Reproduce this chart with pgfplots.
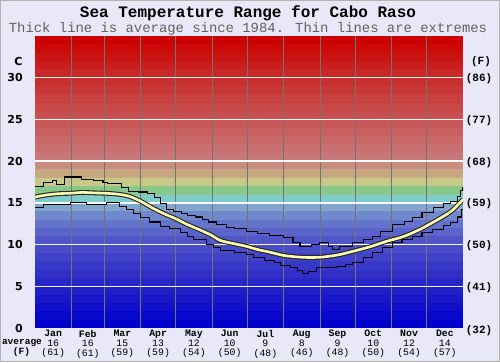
\documentclass[border=0pt]{standalone}
\usepackage{pgfplots}
\usepackage{pgfplotstable}
\pgfplotsset{compat=1.18}
\usepackage{fontspec}
\setmainfont{Liberation Mono}
\newfontfamily\dvs{DejaVu Sans}
\definecolor{bgc}{RGB}{232,232,248}
\definecolor{avgc}{RGB}{255,255,176}
\definecolor{b0}{RGB}{0,0,204}
\definecolor{b1}{RGB}{8,8,204}
\definecolor{b2}{RGB}{16,16,202}
\definecolor{b3}{RGB}{24,24,200}
\definecolor{b4}{RGB}{32,32,200}
\definecolor{b5}{RGB}{40,40,200}
\definecolor{b6}{RGB}{48,48,200}
\definecolor{b7}{RGB}{56,56,200}
\definecolor{b8}{RGB}{64,66,200}
\definecolor{b9}{RGB}{72,76,200}
\definecolor{b10}{RGB}{80,86,200}
\definecolor{b11}{RGB}{90,100,202}
\definecolor{b12}{RGB}{100,116,204}
\definecolor{b13}{RGB}{112,136,204}
\definecolor{b14}{RGB}{128,164,204}
\definecolor{b15}{RGB}{128,204,204}
\definecolor{b16}{RGB}{136,200,136}
\definecolor{b17}{RGB}{200,200,136}
\definecolor{b18}{RGB}{200,168,128}
\definecolor{b19}{RGB}{200,140,128}
\definecolor{b20}{RGB}{200,120,120}
\definecolor{b21}{RGB}{200,112,112}
\definecolor{b22}{RGB}{200,104,104}
\definecolor{b23}{RGB}{200,96,96}
\definecolor{b24}{RGB}{200,88,88}
\definecolor{b25}{RGB}{200,80,80}
\definecolor{b26}{RGB}{200,72,72}
\definecolor{b27}{RGB}{200,64,64}
\definecolor{b28}{RGB}{200,56,56}
\definecolor{b29}{RGB}{200,48,48}
\definecolor{b30}{RGB}{200,40,40}
\definecolor{b31}{RGB}{202,30,30}
\definecolor{b32}{RGB}{202,20,20}
\definecolor{b33}{RGB}{204,10,10}
\definecolor{b34}{RGB}{204,0,0}

\pgfplotstableread{
day temp
0 15.7
10 15.95
20 16.1
30 16.15
40 16.25
50 16.2
60 16.15
70 16.05
80 15.8
90 15.2
100 14.4
110 13.7
120 13.1
130 12.4
140 11.8
150 11.15
158 10.5
170 10.1
180 9.8
190 9.4
200 9.1
212 8.7
225 8.5
235 8.45
245 8.5
258 8.75
270 9.15
286 9.75
300 10.4
314 10.95
328 11.8
343 12.95
355 14.0
365 15.4
}\avgdata

\pgfplotstableread{
day temp
0 17.0
7 17.4
15 17.7
18 17.2
25 18.1
40 17.85
50 17.7
58 17.45
62 17.35
74 16.8
80 16.4
88 16.3
96 16.15
102 15.6
107 14.9
112 14.2
118 13.95
125 13.7
130 13.5
137 13.3
143 13.0
148 12.7
155 12.4
163 12.1
170 11.9
180 11.6
190 11.3
200 11.1
212 10.8
220 10.3
226 9.8
236 10.0
243 10.2
250 9.8
254 9.45
260 9.8
271 10.2
280 10.6
288 11.0
295 11.6
305 12.4
315 12.8
322 13.2
330 13.8
340 14.4
348 14.9
354 15.2
360 15.8
363 16.5
365 16.9
}\maxdata

\pgfplotstableread{
day temp
0 14.4
7 14.8
30 15.0
44 14.8
61 15.0
72 14.6
78 14.2
84 13.7
90 13.2
98 12.7
107 12.2
115 11.9
124 11.5
130 11.0
135 10.6
146 10.0
152 9.7
158 9.3
170 9.0
180 8.8
186 8.4
196 8.1
204 7.8
209 7.5
218 7.2
224 6.9
228 6.55
233 6.8
240 7.2
257 7.4
265 7.6
271 7.8
280 8.4
288 9.0
296 9.6
305 10.2
313 10.6
322 11.0
330 11.4
339 11.8
348 12.3
354 12.6
360 13.3
364 14.2
365 14.2
}\mindata

\pgfplotsset{commonax/.style={
  at={(35pt,34pt)}, anchor=south west, scale only axis,
  width=428pt, height=292pt,
  xmin=0, xmax=365, ymin=0, ymax=35,
  axis line style={draw=none},
  tick style={draw=none},
}}

\begin{document}
\begin{tikzpicture}
\fill[bgc] (0,0) rectangle (500pt,362pt);
\useasboundingbox (0,0) rectangle (500pt,362pt);
\draw[gray!60, line width=0.6pt] (0.3pt,0.3pt) rectangle (499.7pt,361.7pt);
\node[font=\fontsize{16}{18}\selectfont\bfseries] at (248pt,348.5pt) {Sea Temperature Range for Cabo Raso};
\node[font=\fontsize{13.9}{16}\selectfont, text=black!62] at (248pt,333.5pt) {Thick line is average since 1984. Thin lines are extremes};
\begin{axis}[commonax, xtick=\empty, ytick=\empty]
\pgfplotsinvokeforeach{0,...,34}{
  \fill[b#1] (axis cs:0,#1) rectangle (axis cs:365,35);
}
\end{axis}
\begin{axis}[
  commonax,
  xtick={15.5,45,74.5,105,135.5,166,196.5,227.5,258,288.5,319,349.5},
  xticklabels={{\textbf{Jan}\\16\\(61)},{\textbf{Feb}\\16\\(61)},{\textbf{Mar}\\15\\(59)},{\textbf{Apr}\\13\\(59)},{\textbf{May}\\12\\(54)},{\textbf{Jun}\\10\\(50)},{\textbf{Jul}\\9\\(48)},{\textbf{Aug}\\8\\(46)},{\textbf{Sep}\\9\\(48)},{\textbf{Oct}\\10\\(50)},{\textbf{Nov}\\12\\(54)},{\textbf{Dec}\\14\\(57)}},
  xticklabel style={font=\fontsize{9.8}{9.6}\selectfont, align=center, anchor=north, inner sep=0pt, yshift=-2pt},
  minor xtick={31,59,90,120,151,181,212,243,273,304,334},
  xminorgrids,
  minor grid style={color=black!55, line width=0.8pt},
  ytick={5,10,15,20,25,30},
  ymajorgrids,
  major grid style={white, line width=1.3pt},
  extra y ticks={0},
  extra y tick style={grid=none},
  /pgf/number format/assume math mode=true,
  yticklabel style={font=\dvs\bfseries\fontsize{11}{12}\selectfont, anchor=east, inner sep=0pt, xshift=-12pt},
]
\addplot[black, line width=1.1pt, const plot, mark=none] table[x=day,y=temp] {\maxdata};
\addplot[black, line width=1.1pt, const plot, mark=none] table[x=day,y=temp] {\mindata};
\addplot[black!85, line width=4.8pt, smooth, tension=0.5, mark=none] table[x=day,y=temp] {\avgdata};
\addplot[avgc, line width=2.6pt, smooth, tension=0.5, mark=none] table[x=day,y=temp] {\avgdata};
\end{axis}
\node[font=\dvs\bfseries\fontsize{11}{12}\selectfont] at (18.5pt,301pt) {C};
\node[font=\fontsize{11}{13}\selectfont\bfseries] at (481pt,300pt) {(F)};
\begin{scope}[every node/.style={font=\fontsize{11}{13}\selectfont\bfseries}]
\node at (479pt,283pt) {(86)};
\node at (479pt,241.5pt) {(77)};
\node at (479pt,199.8pt) {(68)};
\node at (479pt,158pt) {(59)};
\node at (479pt,116.3pt) {(50)};
\node at (479pt,74.6pt) {(41)};
\node at (479pt,31pt) {(32)};
\end{scope}
\node[font=\fontsize{9.5}{11}\selectfont\bfseries] at (22pt,19pt) {average};
\node[font=\fontsize{9.5}{11}\selectfont\bfseries] at (21.5pt,10pt) {(F)};
\end{tikzpicture}
\end{document}
